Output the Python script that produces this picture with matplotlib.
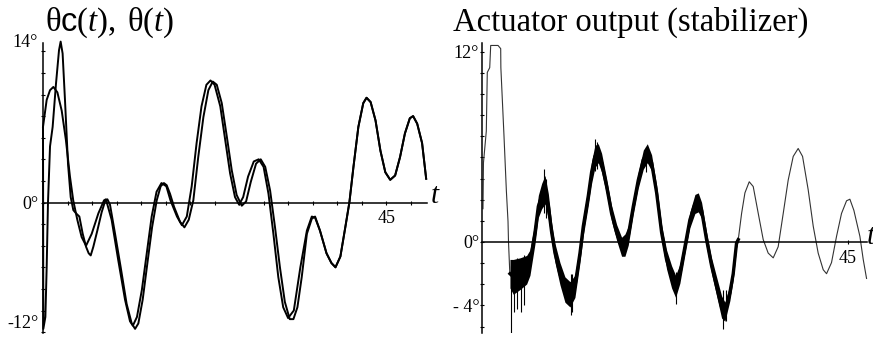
import numpy as np
import matplotlib.pyplot as plt
from matplotlib.ticker import MultipleLocator

plt.rcParams['font.family'] = ['Liberation Serif', 'DejaVu Serif']
plt.rcParams['mathtext.fontset'] = 'custom'
plt.rcParams['mathtext.rm'] = 'Liberation Serif'
plt.rcParams['mathtext.it'] = 'Liberation Serif:italic'
plt.rcParams['mathtext.sf'] = 'Liberation Sans'

# left panel: commanded pitch theta_c(t), degrees
thc_t = [3.0, 3.45, 3.86, 4.27, 4.76, 5.29, 5.8, 6.3, 6.7, 7.2, 7.73, 8.27, 8.96, 9.78,
         10.47, 10.7, 11.4, 12.2, 13.04, 13.65, 14.0, 14.5, 15.1, 15.7, 16.3, 16.9, 17.5,
         18.1, 18.6, 19.4, 20.0, 20.6, 21.2, 21.8, 22.4, 23.0, 23.5, 24.0, 24.7, 25.3, 25.9,
         26.5, 27.0, 27.5, 28.1, 28.8, 29.4, 30.0, 30.6, 31.2, 31.8, 32.4, 33.0, 33.7, 34.5,
         35.3, 35.9, 36.3, 36.9, 37.7, 38.3, 38.8, 39.4, 40.0, 40.5, 41.0, 41.6, 42.2, 42.6,
         43.1, 43.7, 44.3, 44.9, 45.5, 46.1, 46.7, 47.3, 47.9, 48.3, 48.8, 49.4, 49.9]
thc_v = [7.0, 9.5, 10.4, 10.7, 10.2, 8.5, 5.8, 2.4, 0.2, -1.6, -3.2, -4.0, -2.9, -1.0,
         0.2, 0.3, -1.6, -5.3, -9.0, -11.0, -11.4, -10.6, -8.1, -4.7, -1.3, 1.0, 1.8,
         1.5, 0.2, -1.3, -2.1, -1.3, 1.5, 5.5, 8.9, 10.9, 11.3, 10.9, 8.9, 5.8, 2.7,
         0.5, -0.2, 0.5, 2.4, 3.8, 4.0, 3.3, 0.8, -2.9, -6.9, -9.7, -10.7, -10.0, -6.0,
         -2.6, -1.3, -1.4, -2.6, -4.7, -5.6, -6.0, -5.0, -2.3, 0.0, 3.3, 7.0, 9.2, 9.7,
         9.3, 7.6, 4.8, 2.8, 2.1, 2.5, 4.2, 6.4, 7.8, 8.0, 7.3, 5.5, 2.2]

# left panel: actual pitch theta(t)
th_t = [3.0, 3.04, 3.29, 3.45, 3.61, 3.86, 4.18, 4.59, 4.96, 5.16, 5.4, 5.69, 6.06, 6.39,
        6.71, 7.04, 7.45, 7.86, 8.27, 8.59, 8.84, 9.16, 9.65, 10.18, 10.59, 10.88, 11.2,
        11.82, 12.51, 13.24, 13.86, 14.27, 14.67, 15.2, 15.78, 16.35, 16.92, 17.4, 17.8,
        18.14, 18.55, 19.04, 19.78, 20.31, 20.84, 21.4, 22.0, 22.63, 23.24, 23.78, 24.27,
        24.88, 25.5, 26.1, 26.7, 27.33, 27.86, 28.43, 29.08, 29.65, 30.2, 30.8, 31.4, 32.0,
        32.6, 33.2, 33.65, 34.14, 34.67, 35.3, 35.9, 36.3, 36.9, 37.7, 38.3, 38.8, 39.4,
        40.0, 40.5, 41.0, 41.6, 42.2, 42.6, 43.1, 43.7, 44.3, 44.9, 45.5, 46.1, 46.7, 47.3,
        47.9, 48.3, 48.8, 49.4, 49.9]
th_v = [7.0, -11.7, -10.6, -6.0, 0.0, 5.2, 7.0, 11.0, 14.1, 14.9, 13.8, 9.5, 3.6, 0.5,
        -0.7, -1.0, -1.3, -2.9, -4.1, -4.7, -4.9, -4.1, -2.6, -0.9, 0.1, 0.3, -0.2,
        -2.9, -6.0, -9.4, -11.2, -11.7, -11.2, -9.0, -5.6, -2.3, 0.2, 1.5, 1.8,
        1.6, 0.8, -0.4, -1.8, -2.3, -1.6, 0.2, 4.2, 7.9, 10.4, 11.2, 10.9,
        9.2, 6.1, 3.0, 0.7, -0.3, 0.1, 1.9, 3.6, 4.0, 3.3, 1.1, -2.3, -6.0,
        -9.2, -10.8, -10.8, -9.7, -6.9, -2.9, -1.5, -1.3, -2.6, -4.7, -5.6, -6.0, -5.0,
        -2.3, 0.0, 3.3, 7.0, 9.2, 9.7, 9.3, 7.6, 4.8, 2.8, 2.1, 2.5, 4.2, 6.4,
        7.8, 8.0, 7.3, 5.5, 2.2]

# right panel: actuator output, centre line and half-width of the noisy band
act_t = [0.12, 0.18, 0.53, 0.65, 0.95, 1.07, 1.97, 2.3, 2.32, 2.7, 3.0, 3.2, 3.26, 3.4,
         3.44, 3.85, 4.67, 5.49, 5.9, 6.52, 6.93, 7.34, 7.75, 8.16, 8.57, 8.98, 9.59,
         10.2, 10.82, 11.43, 12.05, 12.46, 13.07, 13.48, 13.89, 14.3, 14.71, 15.33, 15.94,
         16.56, 17.17, 17.58, 17.99, 18.61, 19.22, 19.84, 20.33, 20.86, 21.48, 22.09, 22.7,
         23.32, 23.81, 24.34, 24.96, 25.57, 26.19, 26.6, 27.01, 27.62, 28.24, 28.85, 29.47,
         29.88, 30.49, 30.9, 31.31, 31.52,
         31.93, 32.34, 32.87, 33.36, 33.98, 34.59, 35.2, 35.82, 36.43, 37.05, 37.66, 38.28,
         38.89, 39.43, 40.12, 40.74, 41.35, 41.97, 42.38, 42.99, 43.61, 44.22, 44.84, 45.25,
         45.74, 46.48, 46.89, 47.3]
act_v = [2.1, 5.0, 7.0, 10.7, 11.0, 12.4, 12.4, 12.2, 11.0, 6.75, 3.2, 1.3, 0.0, -1.7,
         -2.0, -2.2, -2.0, -1.75, -1.3, 0.6, 2.25, 2.9, 3.3, 2.25, 0.6, -0.7, -2.0,
         -3.0, -3.3, -2.8, -0.7, 1.0, 2.9, 4.4, 5.4, 5.6, 5.0, 3.5, 1.8,
         0.6, -0.3, -0.2, 0.4, 2.25, 3.9, 5.2, 5.6, 5.0, 3.1, 0.6, -1.1,
         -2.2, -2.8, -2.0, -0.3, 1.4, 2.4, 2.5, 2.0, 0.15, -1.5, -2.8, -4.1,
         -4.4, -3.2, -2.0, -0.06, 0.15,
         1.8, 3.1, 3.8, 3.5, 1.8, 0.15, -0.7, -1.0, -0.3, 1.8, 3.9, 5.4,
         5.9, 5.4, 3.3, 1.0, -0.7, -1.75, -2.0, -1.3, 0.36, 1.8, 2.6, 2.7,
         2.0, 0.36, -1.1, -2.3]
act_w = [0, 0, 0, 0, 0, 0, 0, 0, 0, 0, 0, 0, 0, 0,
         0.9, 1.1, 1.0, 0.9, 0.8, 0.7, 0.7, 0.8, 0.9, 0.8, 0.6, 0.6, 0.7,
         0.8, 0.8, 0.7, 0.6, 0.6, 0.6, 0.7, 0.7, 0.6, 0.6, 0.5, 0.5,
         0.5, 0.6, 0.7, 0.6, 0.5, 0.5, 0.6, 0.6, 0.5, 0.5, 0.5, 0.6,
         0.7, 0.7, 0.6, 0.5, 0.5, 0.6, 0.6, 0.5, 0.5, 0.5, 0.6, 0.7,
         0.6, 0.5, 0.4, 0.3, 0.1,
         0, 0, 0, 0, 0, 0, 0, 0, 0, 0, 0, 0,
         0, 0, 0, 0, 0, 0, 0, 0, 0, 0, 0, 0,
         0, 0, 0, 0]

# biggest spikes of the noise (time, low end, high end)
spike_t = [3.6, 3.9, 4.3, 4.8, 5.2, 7.6, 7.9, 10.9, 11.1, 13.9, 14.2, 20.2, 23.9, 29.7, 30.0]
spike_lo = [-5.8, -4.4, -4.2, -4.4, -4.0, 1.8, 1.5, -4.6, -4.4, 4.5, 4.6, 4.4, -3.9, -5.5, -5.0]
spike_hi = [-1.5, -1.2, -1.0, -1.2, -0.8, 4.6, 4.0, -2.0, -2.0, 6.5, 6.3, 6.0, -1.9, -3.0, -3.0]


def style_axis(ax, yticks, ylabels, yminor, xminor, ypad):
    for s in ['top', 'right']:
        ax.spines[s].set_visible(False)
    ax.spines['bottom'].set_position(('data', 0))
    ax.spines['left'].set_linewidth(1.1)
    ax.spines['bottom'].set_linewidth(1.1)
    ax.set_xticks([45])
    ax.set_xticklabels(['45'])
    ax.set_yticks(yticks)
    ax.set_yticklabels(ylabels)
    ax.yaxis.set_minor_locator(MultipleLocator(yminor))
    if xminor:
        ax.xaxis.set_minor_locator(MultipleLocator(xminor))
    ax.tick_params(which='both', direction='inout', length=3, width=0.8, labelsize=13)
    ax.tick_params(axis='x', pad=4)
    ax.tick_params(axis='y', pad=ypad)
    ax.patch.set_alpha(0)


fig = plt.figure(figsize=(8.73, 3.37), dpi=100)

# left: theta_c and theta
axL = fig.add_axes([43 / 873, 4 / 337, 384 / 873, 290 / 337])
axL.plot(thc_t, thc_v, color='black', lw=1.4, solid_joinstyle='round', clip_on=False)
axL.plot(th_t, th_v, color='black', lw=1.4, solid_joinstyle='round', clip_on=False)
axL.set_xlim(3, 3 + 384 / 8.17)
axL.set_ylim((202.5 - 333) / 10.8, (202.5 - 43) / 10.8)
style_axis(axL, [-12, 0, 14], ['-12°', '0°', '14°'], 2, 3, 2)
for lab in axL.get_yticklabels():
    if lab.get_text() != '0°':
        lab.set_verticalalignment('bottom')

# right: actuator
t = np.array(act_t)
v = np.array(act_v)
w = np.array(act_w)
axR = fig.add_axes([482 / 873, 4 / 337, 385 / 873, 290 / 337])
axR.plot(t, v, color='#333333', lw=0.8, clip_on=False)
axR.plot(t, np.where(w > 0, v, np.nan), color='black', lw=2.4, solid_joinstyle='round')
axR.fill_between(t, v - w, v + w, where=w > 0, color='black', lw=0)
axR.vlines(spike_t, spike_lo, spike_hi, color='black', lw=0.8)
axR.set_xlim(0, 385 / 8.13)
axR.set_ylim((242 - 333) / 15.85, (242 - 43) / 15.85)
style_axis(axR, [-4, 0, 12], ['- 4°', '0°', '12°'], 4 / 3, None, 0.5)

# titles and axis letters
fig.text(45 / 873, 1 - 31 / 337, r'$\mathrm{θ}\mathsf{c}(t),\;\mathrm{θ}(t)$',
         fontsize=23.5, va='baseline', ha='left')
fig.text(453 / 873, 1 - 31 / 337, 'Actuator output (stabilizer)',
         fontsize=23.5, va='baseline', ha='left')
fig.text(435 / 873, 1 - 203 / 337, 't', fontsize=21, fontstyle='italic',
         va='baseline', ha='center')
# the reference cuts this letter at the right edge too
fig.text(867 / 873, 1 - 244 / 337, 't', fontsize=21, fontstyle='italic',
         va='baseline', ha='left')

fig.savefig('out.png', dpi=100)
